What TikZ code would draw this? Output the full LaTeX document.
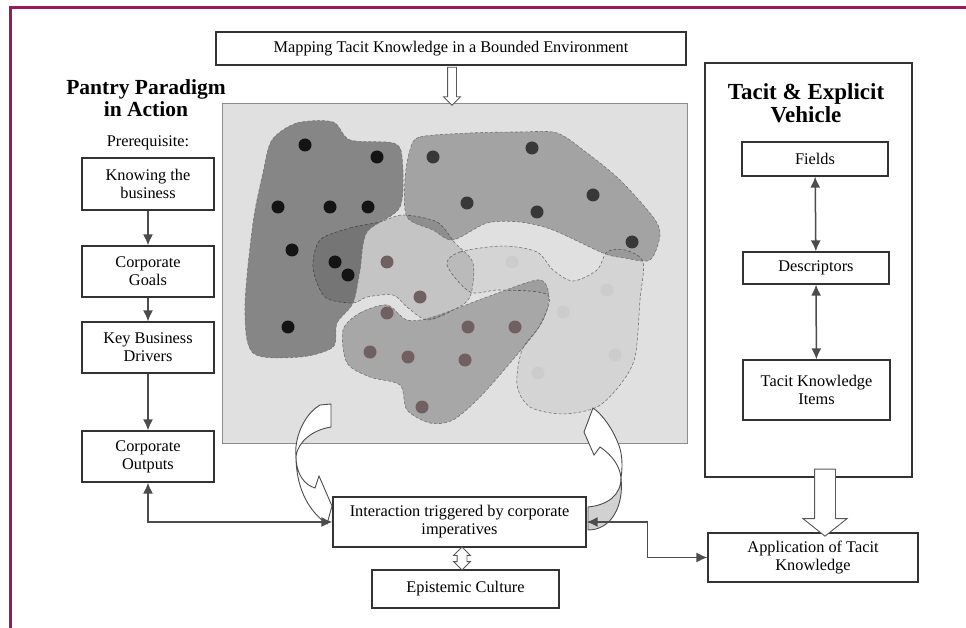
\documentclass[tikz,border=0pt]{standalone}
\usepackage{fontspec}
\setmainfont{Liberation Serif}
\usepackage{tikz}
\usetikzlibrary{shapes.arrows}
\usetikzlibrary{arrows.meta}
\definecolor{framered}{RGB}{150,28,92}
\definecolor{dotmid}{RGB}{112,96,98}
\tikzset{
    mybox/.style = {rectangle, draw=black!80, line width=1.3pt, fill=white, align=center, inner sep=1pt, font=\fontsize{16.3}{18}\selectfont},
    mytitle/.style = {align=center, font=\fontsize{21.5}{21.5}\selectfont\bfseries},
    mytext/.style = {font=\fontsize{16.3}{18}\selectfont},
    edgen/.style = {-{Latex[length=11pt,width=10pt]}, line width=1.5pt, draw=black!70},
    edged/.style = {{Latex[length=11pt,width=10pt]}-{Latex[length=11pt,width=10pt]}, line width=1.5pt, draw=black!70},
    openarr/.style = {single arrow, draw=black!65, fill=white, line width=0.9pt, inner xsep=0pt, rotate=-90},
    opendarr/.style = {double arrow, draw=black!65, fill=white, line width=0.9pt, inner xsep=0pt, rotate=-90},
    blob/.style = {draw=black!55, line width=0.6pt, densely dashed, fill=black},
    curvearr/.style = {draw=black!70, line width=0.9pt, fill=white}
}

\begin{document}
\begin{tikzpicture}[x=1pt,y=-1pt]
\useasboundingbox (0,0) rectangle (966,628);
\draw[framered, line width=3] (10,628) -- (10,8) -- (966,8);
%
\node[mybox, minimum width=470, minimum height=33] at (451,48.5) (mapping) {Mapping Tacit Knowledge in a Bounded Environment};
\node[rectangle, draw=black!45, line width=0.8pt, fill=black!12, minimum width=465, minimum height=340] at (454.5,273) (map) {};
\node[openarr, inner ysep=4, single arrow head extend=4, minimum height=38] at (452,84) (mapin) {};
%
\node[mytitle] at (146,98) (pantry) {Pantry Paradigm\\in Action};
\node[mytext] at (148,143) (prereq) {Prerequisite:};
\node[mybox, minimum width=132, minimum height=52] at (148,184) (know) {Knowing the\\business};
\node[mybox, minimum width=132, minimum height=51] at (148,271.5) (goals) {Corporate\\Goals};
\node[mybox, minimum width=132, minimum height=51] at (148,347.5) (drivers) {Key Business\\Drivers};
\node[mybox, minimum width=132, minimum height=51] at (148,456.5) (outputs) {Corporate\\Outputs};
%
\node[mybox, minimum width=253, minimum height=50] at (459.5,522) (interact) {Interaction triggered by corporate\\imperatives};
\node[mybox, minimum width=187, minimum height=38] at (465.5,589) (epist) {Epistemic Culture};
\node[opendarr, inner ysep=4.5, double arrow head extend=3.5, minimum height=23] at (462,558.5) (ecarr) {};
%
\node[mybox, minimum width=207, minimum height=414] at (808.5,270) (vehicle) {};
\node[mytitle, font=\fontsize{23}{23}\selectfont\bfseries] at (806,103) (vtitle) {Tacit \& Explicit\\Vehicle};
\node[mybox, minimum width=146, minimum height=34] at (815,159) (fields) {Fields};
\node[mybox, minimum width=146, minimum height=32] at (816,268) (descr) {Descriptors};
\node[mybox, minimum width=147, minimum height=60] at (816.5,390) (items) {Tacit Knowledge\\Items};
\node[mybox, minimum width=210, minimum height=49] at (813,557.5) (appl) {Application of Tacit\\Knowledge};
\node[openarr, inner ysep=10, single arrow head extend=11.5, single arrow tip angle=103, minimum height=67] at (825,498.5) (vehout) {};
%
% regions of the map
\draw[blob, fill opacity=0.05] plot[smooth cycle, tension=0.5] coordinates {(447,265) (460,252) (503,246) (537,252) (553,270) (573,281) (597,270) (607,252) (625,250) (643,262) (640,300) (635,357) (620,385) (597,407) (563,414) (530,407) (517,385) (522,350) (540,325) (548,295) (500,290) (470,292)};
\draw[blob, fill opacity=0.12] plot[smooth cycle, tension=0.5] coordinates {(320,240) (350,228) (380,222) (403,215) (437,222) (455,243) (473,263) (470,297) (453,310) (427,320) (407,307) (393,295) (367,297) (353,303) (325,297) (313,268)};
\draw[blob, fill opacity=0.25] plot[smooth cycle, tension=0.5] coordinates {(343,330) (360,313) (387,305) (407,320) (433,317) (487,297) (537,280) (548,290) (547,310) (537,330) (510,363) (480,397) (453,420) (430,423) (407,410) (400,385) (370,377) (347,363)};
\draw[blob, fill opacity=0.27] plot[smooth cycle, tension=0.5] coordinates {(410,150) (420,137) (470,133) (520,132) (557,133) (587,153) (620,180) (653,217) (660,235) (650,260) (625,258) (603,253) (553,230) (520,222) (487,223) (453,240) (433,230) (407,217) (405,180)};
\draw[blob, fill opacity=0.40] plot[smooth cycle, tension=0.5] coordinates {(272,140) (297,123) (333,122) (350,140) (393,143) (402,157) (400,207) (367,232) (360,270) (353,303) (337,323) (333,347) (300,357) (253,353) (245,307) (253,223) (263,173)};
\foreach \p in {(305,145),(377,157),(278,207),(330,207),(368,207),(292,250),(335,262),(348,275),(288,327)}
  \fill[black!92] \p circle (6.5);
\foreach \p in {(433,157),(532,148),(467,203),(537,212),(593,195),(632,242)}
  \fill[black!78] \p circle (6.5);
\foreach \p in {(387,262),(420,297),(387,313),(468,327),(515,327),(370,352),(408,357),(465,360),(422,407)}
  \fill[dotmid] \p circle (6.5);
\foreach \p in {(512,262),(607,290),(563,312),(615,355),(538,373)}
  \fill[black!20] \p circle (6.5);
%
% curved arrows
\draw[curvearr] (320,405) -- (331,404) -- (331,427) .. controls (312,430) and (298,442) .. (296,456)
  .. controls (294,440) and (303,415) .. (320,405) -- cycle;
\draw[curvearr] (296,456) .. controls (296,475) and (305,485) .. (315,488) -- (319,476) -- (332,506) -- (327,524)
  .. controls (310,512) and (296,490) .. (296,456) -- cycle;
\draw[curvearr] (593,408) -- (584,432) -- (594,455) -- (600,447) .. controls (612,455) and (620,466) .. (621,478)
  .. controls (623,465) and (622,452) .. (618,443) .. controls (612,428) and (602,414) .. (593,408) -- cycle;
\draw[curvearr, fill=black!18] (621,478) .. controls (621,495) and (608,505) .. (588,507) -- (588,530)
  .. controls (612,530) and (624,505) .. (621,478) -- cycle;
%
\draw[edgen] (know) -- (goals);
\draw[edgen] (goals) -- (drivers);
\draw[edgen] (drivers) -- (outputs);
\draw[edged] (outputs) |- (interact);
\draw[edged] (interact.east) -- ++(61,0) |- (appl);
\draw[edged] (fields) -- (descr);
\draw[edged] (descr) -- (items);

\end{tikzpicture}
\end{document}
